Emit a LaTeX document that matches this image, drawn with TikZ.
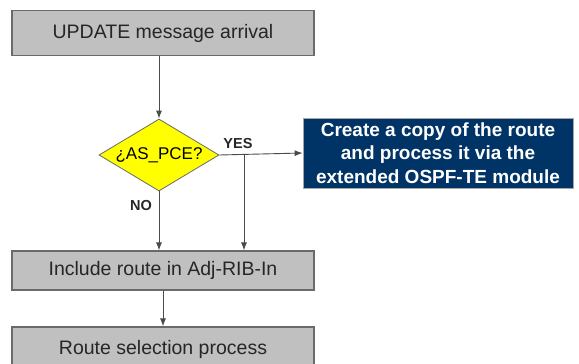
\documentclass[tikz,border=0pt]{standalone}
\usepackage{fontspec}
\setmainfont{Liberation Sans}
\usetikzlibrary{shapes.geometric,arrows.meta}
\definecolor{boxgray}{HTML}{C0C0C0}
\definecolor{edgegray}{HTML}{6A6A6A}
\definecolor{navy}{HTML}{003366}
\definecolor{decyellow}{HTML}{FFFF00}
\tikzset{
  graybox/.style={draw=edgegray, line width=1.2pt, fill=boxgray, minimum width=302pt,
    minimum height=45pt, inner sep=0pt, font=\fontsize{19.5}{22}\selectfont, text=black!85},
  bluebox/.style={draw=edgegray!60, line width=0.8pt, fill=navy, text=white, align=center,
    minimum width=270pt, minimum height=70pt, inner sep=0pt,
    font=\bfseries\fontsize{19}{23.5}\selectfont},
  decision/.style={diamond, draw=edgegray, line width=0.8pt, fill=decyellow, aspect=1.667,
    minimum width=120pt, minimum height=72pt, inner sep=0pt, font=\fontsize{17}{19}\selectfont},
  flow/.style={draw=edgegray!70!black, line width=0.9pt, -{Latex[length=8pt,width=6pt]}},
  branchlabel/.style={font=\bfseries\fontsize{14.5}{16}\selectfont, text=black!85},
}
\begin{document}
\begin{tikzpicture}[x=1pt, y=-1pt]
  \useasboundingbox (0,0) rectangle (579,364);
  \node[graybox] (update) at (163,33) {UPDATE message arrival};
  \node[decision] (pce) at (159,155) {¿AS\_PCE?};
  \node[bluebox] (copy) at (438,153) {Create a copy of the route\\and process it via the\\extended OSPF-TE module};
  \node[graybox, minimum height=39pt] (adj) at (163,270.5) {Include route in Adj-RIB-In};
  \node[graybox] (sel) at (163,349.5) {Route selection process};
  \coordinate (split) at (244,155);

  \draw[flow] (update.south -| pce.north) -- (pce.north);
  \draw[flow] (pce.east) -- (copy.west);
  \draw[flow] (split) -- (split |- adj.north);
  \draw[flow] (pce.south) -- (pce.south |- adj.north);
  \draw[flow] (adj.south) -- (sel.north);

  \node[branchlabel] (yes) at (238,144) {YES};
  \node[branchlabel] (no) at (141,206) {NO};
\end{tikzpicture}
\end{document}
